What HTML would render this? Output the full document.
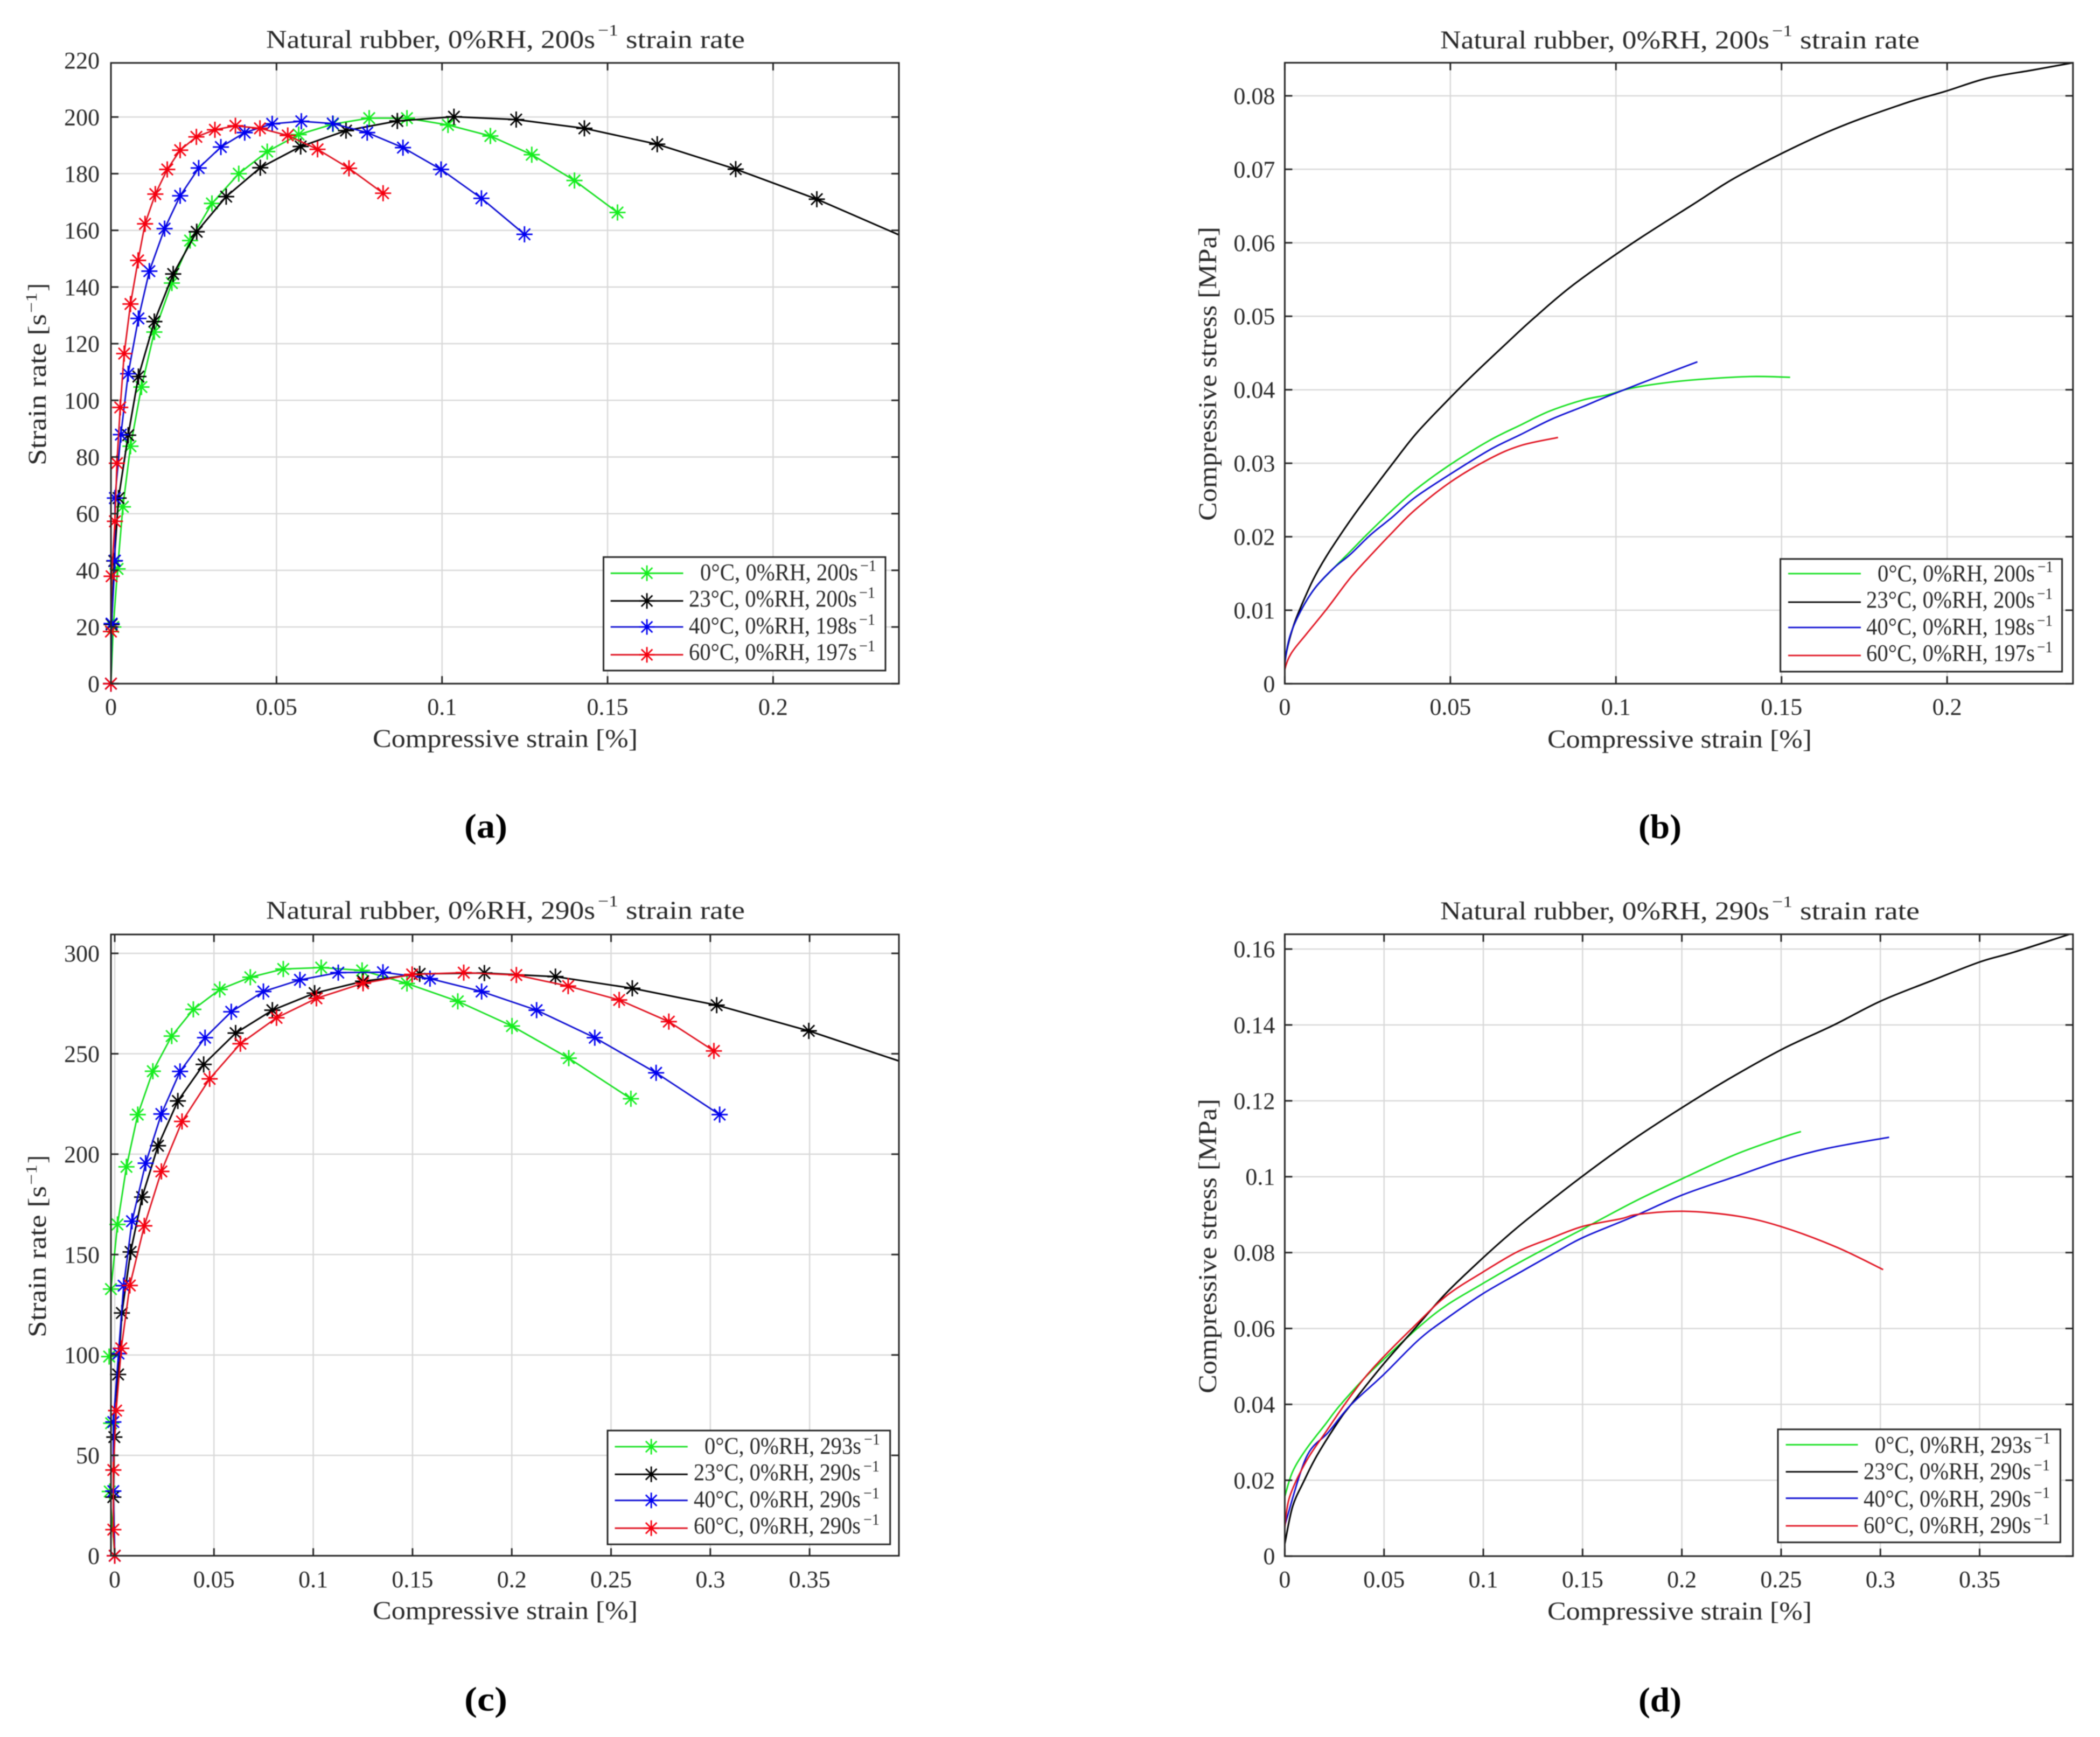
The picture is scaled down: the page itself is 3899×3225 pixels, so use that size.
<!DOCTYPE html>
<html lang="en">
<head>
<meta charset="utf-8">
<title>Natural rubber strain rate and compressive stress</title>
<style>
html,body{margin:0;padding:0;background:#fff;width:3899px;height:3225px;overflow:hidden}
svg{display:block;filter:blur(0.7px)}
text{font-family:"Liberation Serif",serif;fill:#2a2a2a}
.t{font-size:48px}
.k{font-size:44px}
.l{font-size:44px}
.s{font-size:30px}
.c{font-size:64px;font-weight:bold;fill:#000}
</style>
</head>
<body>
<svg id="figure" width="3899" height="3225" viewBox="0 0 3899 3225" xmlns="http://www.w3.org/2000/svg">
<rect width="3899" height="3225" fill="#fff"/>
<defs>
<clipPath id="clip-a"><rect x="206" y="116.8" width="1463" height="1152.5"/></clipPath>
<clipPath id="clip-b"><rect x="2385.4" y="116.5" width="1463.4" height="1153"/></clipPath>
<clipPath id="clip-c"><rect x="206" y="1735" width="1463" height="1153.5"/></clipPath>
<clipPath id="clip-d"><rect x="2385.4" y="1734.6" width="1463.4" height="1154.6"/></clipPath>
</defs>

<g id="panel-a">
  <g class="plot"></g>
  <g>
    <text class="t" x="494" y="89" textLength="611" lengthAdjust="spacingAndGlyphs">Natural rubber, 0%RH, 200s</text>
    <text class="s" x="1110" y="66" textLength="38" lengthAdjust="spacingAndGlyphs">−1</text>
    <text class="t" x="1162" y="89" textLength="221" lengthAdjust="spacingAndGlyphs">strain rate</text>
  </g>
  <text class="t" x="692" y="1387" textLength="492" lengthAdjust="spacingAndGlyphs">Compressive strain [%]</text>
  <g>
    <text class="t" transform="translate(85,864) rotate(-90)" textLength="281" lengthAdjust="spacingAndGlyphs">Strain rate [s</text>
    <text class="s" transform="translate(68,581) rotate(-90)" textLength="38" lengthAdjust="spacingAndGlyphs">−1</text>
    <text class="t" transform="translate(85,541) rotate(-90)" textLength="15" lengthAdjust="spacingAndGlyphs">]</text>
  </g>
  <text class="c" x="862" y="1555" textLength="80" lengthAdjust="spacingAndGlyphs">(a)</text>
  <g class="legend">
    <rect x="1120.5" y="1034.3" width="523.5" height="210.7" fill="#fff" stroke="#262626" stroke-width="3"/>
    <text class="l" x="1300" y="1077" textLength="293" lengthAdjust="spacingAndGlyphs">0°C, 0%RH, 200s</text><text class="s" x="1597" y="1060" textLength="30" lengthAdjust="spacingAndGlyphs">−1</text>
    <text class="l" x="1279" y="1126" textLength="312" lengthAdjust="spacingAndGlyphs">23°C, 0%RH, 200s</text><text class="s" x="1595" y="1110" textLength="30" lengthAdjust="spacingAndGlyphs">−1</text>
    <text class="l" x="1279" y="1176" textLength="312" lengthAdjust="spacingAndGlyphs">40°C, 0%RH, 198s</text><text class="s" x="1595" y="1160" textLength="30" lengthAdjust="spacingAndGlyphs">−1</text>
    <text class="l" x="1279" y="1225" textLength="312" lengthAdjust="spacingAndGlyphs">60°C, 0%RH, 197s</text><text class="s" x="1595" y="1209" textLength="30" lengthAdjust="spacingAndGlyphs">−1</text>
  </g>
</g>

<g id="panel-b">
  <g class="plot"></g>
  <g>
    <text class="t" x="2674" y="90" textLength="611" lengthAdjust="spacingAndGlyphs">Natural rubber, 0%RH, 200s</text>
    <text class="s" x="3290" y="67" textLength="38" lengthAdjust="spacingAndGlyphs">−1</text>
    <text class="t" x="3342" y="90" textLength="222" lengthAdjust="spacingAndGlyphs">strain rate</text>
  </g>
  <text class="t" x="2873" y="1388" textLength="491" lengthAdjust="spacingAndGlyphs">Compressive strain [%]</text>
  <text class="t" transform="translate(2258,967) rotate(-90)" textLength="546" lengthAdjust="spacingAndGlyphs">Compressive stress [MPa]</text>
  <text class="c" x="3042" y="1556" textLength="80" lengthAdjust="spacingAndGlyphs">(b)</text>
  <g class="legend">
    <rect x="3305.6" y="1037.8" width="523" height="209.2" fill="#fff" stroke="#262626" stroke-width="3"/>
    <text class="l" x="3486" y="1079" textLength="292" lengthAdjust="spacingAndGlyphs">0°C, 0%RH, 200s</text><text class="s" x="3783" y="1062" textLength="29" lengthAdjust="spacingAndGlyphs">−1</text>
    <text class="l" x="3465" y="1128" textLength="313" lengthAdjust="spacingAndGlyphs">23°C, 0%RH, 200s</text><text class="s" x="3782" y="1112" textLength="29" lengthAdjust="spacingAndGlyphs">−1</text>
    <text class="l" x="3465" y="1178" textLength="313" lengthAdjust="spacingAndGlyphs">40°C, 0%RH, 198s</text><text class="s" x="3782" y="1162" textLength="29" lengthAdjust="spacingAndGlyphs">−1</text>
    <text class="l" x="3465" y="1227" textLength="313" lengthAdjust="spacingAndGlyphs">60°C, 0%RH, 197s</text><text class="s" x="3782" y="1211" textLength="29" lengthAdjust="spacingAndGlyphs">−1</text>
  </g>
</g>

<g id="panel-c">
  <g class="plot"></g>
  <g>
    <text class="t" x="494" y="1706" textLength="611" lengthAdjust="spacingAndGlyphs">Natural rubber, 0%RH, 290s</text>
    <text class="s" x="1110" y="1683" textLength="38" lengthAdjust="spacingAndGlyphs">−1</text>
    <text class="t" x="1162" y="1706" textLength="221" lengthAdjust="spacingAndGlyphs">strain rate</text>
  </g>
  <text class="t" x="692" y="3006" textLength="492" lengthAdjust="spacingAndGlyphs">Compressive strain [%]</text>
  <g>
    <text class="t" transform="translate(85,2483) rotate(-90)" textLength="281" lengthAdjust="spacingAndGlyphs">Strain rate [s</text>
    <text class="s" transform="translate(68,2200) rotate(-90)" textLength="38" lengthAdjust="spacingAndGlyphs">−1</text>
    <text class="t" transform="translate(85,2160) rotate(-90)" textLength="15" lengthAdjust="spacingAndGlyphs">]</text>
  </g>
  <text class="c" x="862" y="3176" textLength="80" lengthAdjust="spacingAndGlyphs">(c)</text>
  <g class="legend">
    <rect x="1128" y="2656" width="524.7" height="211.3" fill="#fff" stroke="#262626" stroke-width="3"/>
    <text class="l" x="1308" y="2699" textLength="291" lengthAdjust="spacingAndGlyphs">0°C, 0%RH, 293s</text><text class="s" x="1604" y="2682" textLength="30" lengthAdjust="spacingAndGlyphs">−1</text>
    <text class="l" x="1288" y="2748" textLength="310" lengthAdjust="spacingAndGlyphs">23°C, 0%RH, 290s</text><text class="s" x="1603" y="2732" textLength="30" lengthAdjust="spacingAndGlyphs">−1</text>
    <text class="l" x="1288" y="2798" textLength="310" lengthAdjust="spacingAndGlyphs">40°C, 0%RH, 290s</text><text class="s" x="1603" y="2782" textLength="30" lengthAdjust="spacingAndGlyphs">−1</text>
    <text class="l" x="1288" y="2847" textLength="310" lengthAdjust="spacingAndGlyphs">60°C, 0%RH, 290s</text><text class="s" x="1603" y="2831" textLength="30" lengthAdjust="spacingAndGlyphs">−1</text>
  </g>
</g>

<g id="panel-d">
  <g class="plot"></g>
  <g>
    <text class="t" x="2674" y="1707" textLength="611" lengthAdjust="spacingAndGlyphs">Natural rubber, 0%RH, 290s</text>
    <text class="s" x="3290" y="1684" textLength="38" lengthAdjust="spacingAndGlyphs">−1</text>
    <text class="t" x="3342" y="1707" textLength="222" lengthAdjust="spacingAndGlyphs">strain rate</text>
  </g>
  <text class="t" x="2873" y="3007" textLength="491" lengthAdjust="spacingAndGlyphs">Compressive strain [%]</text>
  <text class="t" transform="translate(2258,2587) rotate(-90)" textLength="547" lengthAdjust="spacingAndGlyphs">Compressive stress [MPa]</text>
  <text class="c" x="3042" y="3177" textLength="80" lengthAdjust="spacingAndGlyphs">(d)</text>
  <g class="legend">
    <rect x="3301" y="2653.8" width="524.4" height="209.8" fill="#fff" stroke="#262626" stroke-width="3"/>
    <text class="l" x="3481" y="2697" textLength="291" lengthAdjust="spacingAndGlyphs">0°C, 0%RH, 293s</text><text class="s" x="3777" y="2680" textLength="30" lengthAdjust="spacingAndGlyphs">−1</text>
    <text class="l" x="3460" y="2746" textLength="311" lengthAdjust="spacingAndGlyphs">23°C, 0%RH, 290s</text><text class="s" x="3776" y="2730" textLength="30" lengthAdjust="spacingAndGlyphs">−1</text>
    <text class="l" x="3460" y="2797" textLength="311" lengthAdjust="spacingAndGlyphs">40°C, 0%RH, 290s</text><text class="s" x="3776" y="2781" textLength="30" lengthAdjust="spacingAndGlyphs">−1</text>
    <text class="l" x="3460" y="2846" textLength="311" lengthAdjust="spacingAndGlyphs">60°C, 0%RH, 290s</text><text class="s" x="3776" y="2830" textLength="30" lengthAdjust="spacingAndGlyphs">−1</text>
  </g>
</g>
</svg>

<script>
// Panel (a): strain rate vs. strain, 200 1/s
const aGreenStrain=[0,.0007,.002,.0036,.0059,.0092,.0131,.0184,.0239,.0305,.0386,.0472,.0567,.0671,.078,.0894,.1018,.1146,.1271,.14,.153];
const aGreenRate=[0,20,40.5,62.4,83.8,104.7,124.1,141.4,156.4,169.5,180,187.8,193.8,197.5,199.6,199.6,197.2,193.3,186.7,177.6,166.3];
const aBlackStrain=[0,.0002,.001,.0023,.0052,.0083,.0131,.0188,.0259,.0348,.0451,.0573,.071,.0865,.1036,.1224,.143,.165,.1887,.2132,.24];
const aBlackRate=[0,20.9,43.3,65.5,87.7,108.4,127.8,144.6,159.5,171.9,182.1,189.6,195.2,198.6,200.1,199.1,196,190.4,181.6,171,157.4];
const aBlueStrain=[0,.0002,.0012,.0012,.003,.0052,.0083,.0116,.0162,.0209,.0265,.0332,.0404,.0487,.0575,.067,.0774,.0882,.0997,.1119,.1249];
const aBlueRate=[0,21.2,43.4,65.5,87.9,109.4,128.9,145.6,160.6,172.2,182,189.4,194.5,197.6,198.5,197.7,194.5,189.2,181.5,171.3,158.6];
const aRedStrain=[0,0,.0002,.0012,.0018,.0028,.004,.0059,.0082,.0103,.0134,.017,.0209,.0258,.0314,.0376,.045,.0534,.0624,.0719,.0822];
const aRedRate=[0,18.4,37.9,57.3,77.8,97.5,116.5,134,149.4,162.3,172.8,181.5,188.3,193,195.5,196.9,196,193.5,188.6,181.9,173.1];

// Panel (b): stress vs. strain, 200 1/s
const bGreenStrain=[0,0,.0016,.0047,.0091,.0147,.0198,.0248,.0317,.0392,.0499,.0618,.0712,.08,.09,.0974,.1045,.1141,.125,.1404,.1526];
const bGreenStress=[.0003,.0027,.0065,.0098,.013,.0157,.018,.0203,.0233,.0263,.0298,.0331,.0352,.0371,.0386,.0393,.0402,.0409,.0414,.0418,.0417];
const bBlackStrain=[0,0,.0009,.0028,.005,.0085,.0125,.0173,.021,.0254,.0323,.0398,.0499,.0568,.0669,.0751,.0869,.1045,.1232,.1386,.164,.1867,.1994,.2121,.2258,.238];
const bBlackStress=[.0003,.0027,.0051,.0081,.0106,.0141,.0173,.0206,.023,.0257,.0298,.0341,.0389,.042,.0463,.0497,.0542,.0598,.0652,.0695,.0751,.0789,.0806,.0824,.0835,.0845];
const bBlueStrain=[0,0,.0016,.0047,.0091,.0147,.0198,.026,.0323,.0392,.0499,.0618,.0712,.0806,.09,.0974,.1105,.1246];
const bBlueStress=[.0003,.0027,.0065,.0098,.013,.0157,.0176,.0203,.0226,.0253,.0285,.0318,.0339,.036,.0377,.0391,.0414,.0438];
const bRedStrain=[0,0,.0019,.0066,.0129,.0198,.026,.0323,.0392,.0499,.0618,.0712,.0825];
const bRedStress=[.0003,.0019,.0041,.0068,.0103,.0144,.0175,.0205,.0236,.0274,.0306,.0324,.0335];

// Panel (c): strain rate vs. strain, 290 1/s
const cGreenStrain=[0,-.0025,-.0018,-.0028,-.0019,.0014,.0059,.0116,.0192,.0287,.0396,.0529,.0683,.0849,.104,.1246,.1472,.1728,.2001,.2287,.26];
const cGreenRate=[0,32,66,99.2,132.8,165,193.7,219.7,241.3,258.8,272.1,282,288.1,292.2,292.9,291.5,285,276.1,263.8,247.8,227.6];
const cBlackStrain=[0,-.0007,-.0002,.0017,.0036,.008,.0138,.0218,.0318,.0448,.0609,.0794,.1007,.1251,.1536,.1862,.222,.2607,.3032,.3496,.3965];
const cBlackRate=[0,29.2,59.1,90.3,120.9,151.3,178.6,204.2,226.5,244.7,260.3,271.7,280.2,286.1,289.8,290.2,288.4,282.6,274.2,261.4,245.9];
const cBlueStrain=[0,-.0007,-.0007,.0019,.0045,.0087,.0156,.0235,.0329,.0455,.0587,.0749,.0933,.1126,.1351,.1588,.1848,.2125,.2418,.2727,.3047];
const cBlueRate=[0,32.2,66.6,100.7,134.5,166.6,195.5,220,241.2,258,270.9,281,286.8,290.4,290.6,287.4,281,271.7,258,240.5,219.7];
const cRedStrain=[0,-.0007,-.0007,.0007,.0033,.0076,.0149,.0235,.0339,.0478,.0633,.0815,.1016,.1251,.1498,.1758,.2023,.2284,.2541,.2791,.3018];
const cRedRate=[0,13,42.7,72.3,103.3,134.6,164.3,191.4,216.3,237.5,255,267.9,277.6,285.1,289.5,290.4,289.2,283.7,276.8,266,251.4];

// Panel (d): stress vs. strain, 290 1/s
const dGreenStrain=[0,.0039,.0108,.0205,.0274,.0399,.0497,.0676,.0814,.0996,.1175,.1368,.1501,.16,.1782,.2003,.2267,.2509,.26];
const dGreenStress=[.0157,.0222,.0282,.0348,.0395,.0468,.0518,.0604,.0661,.0718,.0772,.0826,.0862,.089,.094,.0995,.1058,.1104,.1119];
const dBlackStrain=[0,.0039,.0094,.0163,.0274,.033,.0497,.0662,.0814,.0996,.1126,.1253,.1501,.1752,.204,.2267,.2509,.2766,.3002,.3265,.3501,.3674,.397];
const dBlackStress=[.0032,.013,.0195,.0266,.0358,.0397,.0506,.0604,.0694,.0785,.0846,.0901,.1002,.1097,.1195,.1267,.1337,.14,.1463,.1518,.1566,.1592,.1642];
const dBlueStrain=[0,.0108,.0219,.033,.0497,.0676,.0814,.0996,.1175,.1368,.1507,.1752,.2003,.2267,.2503,.2736,.3044];
const dBlueStress=[.0081,.026,.0326,.0397,.0478,.0571,.0626,.0691,.0745,.0802,.0841,.0894,.0952,.1,.1043,.1075,.1104];
const dRedStrain=[0,.0025,.0108,.0205,.0302,.0399,.0497,.0648,.0814,.0996,.1175,.1341,.1501,.1692,.1782,.2009,.2282,.2509,.2781,.3014];
const dRedStress=[.0075,.0157,.025,.0326,.04,.0468,.0525,.0604,.0686,.0748,.0803,.0838,.0869,.0889,.0901,.0909,.0896,.0867,.0814,.0755];

// Tick values and printed labels
const aXTicks=[0,.05,.1,.15,.2];
const aXLabels=['0','0.05','0.1','0.15','0.2'];
const aYTicks=[0,20,40,60,80,100,120,140,160,180,200,220];
const aYLabels=['0','20','40','60','80','100','120','140','160','180','200','220'];
const bYTicks=[0,.01,.02,.03,.04,.05,.06,.07,.08];
const bYLabels=['0','0.01','0.02','0.03','0.04','0.05','0.06','0.07','0.08'];
const cXTicks=[0,.05,.1,.15,.2,.25,.3,.35];
const cXLabels=['0','0.05','0.1','0.15','0.2','0.25','0.3','0.35'];
const cYTicks=[0,50,100,150,200,250,300];
const cYLabels=['0','50','100','150','200','250','300'];
const dYTicks=[0,.02,.04,.06,.08,.1,.12,.14,.16];
const dYLabels=['0','0.02','0.04','0.06','0.08','0.1','0.12','0.14','0.16'];

const seriesNames=['0c','23c','40c','60c'];
const lineColors=['#14e01e','#000000','#0a0ad2','#e0101e'];
const markColors=['#14ee1e','#000000','#0000f0','#f5000f'];

const NS='http://www.w3.org/2000/svg';

function make(parent,tag,attrs){
  const el=document.createElementNS(NS,tag);
  for(const k in attrs){el.setAttribute(k,attrs[k]);}
  parent.appendChild(el);
  return el;
}
function xAxis(p,v){return p.left+(v-p.xMin)*(p.right-p.left)/(p.xMax-p.xMin);}
function yAxis(p,v){return p.bottom-(v-p.yMin)*(p.bottom-p.top)/(p.yMax-p.yMin);}
function starPath(cx,cy,r){
  const d=r*0.707;
  return 'M'+(cx-r)+' '+cy+'H'+(cx+r)+'M'+cx+' '+(cy-r)+'V'+(cy+r)+
    'M'+(cx-d)+' '+(cy-d)+'L'+(cx+d)+' '+(cy+d)+'M'+(cx-d)+' '+(cy+d)+'L'+(cx+d)+' '+(cy-d);
}
function straightPath(q){
  return 'M'+q.map(a=>a[0].toFixed(1)+' '+a[1].toFixed(1)).join('L');
}
// Catmull-Rom through the read points, for the marker-free stress curves
function smoothPath(q){
  let d='M'+q[0][0].toFixed(1)+' '+q[0][1].toFixed(1);
  for(let i=0;i<q.length-1;i++){
    const a=q[Math.max(i-1,0)],b=q[i],c=q[i+1],e=q[Math.min(i+2,q.length-1)];
    const c1x=b[0]+(c[0]-a[0])/6,c1y=b[1]+(c[1]-a[1])/6;
    const c2x=c[0]-(e[0]-b[0])/6,c2y=c[1]-(e[1]-b[1])/6;
    d+='C'+c1x.toFixed(1)+' '+c1y.toFixed(1)+' '+c2x.toFixed(1)+' '+c2y.toFixed(1)+' '+c[0].toFixed(1)+' '+c[1].toFixed(1);
  }
  return d;
}

function drawPanel(p){
  const plot=document.querySelector('#'+p.id+' .plot');
  const inY=v=>v<=p.yMax&&v>=p.yMin;

  const grid=make(plot,'g',{stroke:'#d8d8d8','stroke-width':2.4,fill:'none'});
  
  
  p.xTicks.forEach(v=>{
    const x=xAxis(p,v);
    const gl=make(grid,'line',{x1:x,x2:x,y1:p.top,y2:p.bottom});
    
    
  });
  p.yTicks.filter(inY).forEach(v=>{
    const y=yAxis(p,v);
    const gl=make(grid,'line',{x1:p.left,x2:p.right,y1:y,y2:y});
    
    
  });

  p.series.forEach((s,i)=>{
    const g=make(plot,'g',{});
    
    
    const q=s.x.map((v,j)=>[xAxis(p,v),yAxis(p,s.y[j])]);
    const line=make(g,'path',{d:p.markers?straightPath(q):smoothPath(q),fill:'none',stroke:lineColors[i],'stroke-width':i===1?3:2.8,'stroke-linejoin':'round','clip-path':'url(#clip-'+p.id.slice(-1)+')'});
    
    
    if(p.markers){
      s.x.forEach((v,j)=>{
        if(v>p.xMax){return;}
        const m=make(g,'path',{d:starPath(xAxis(p,v),yAxis(p,s.y[j]),15),stroke:markColors[i],'stroke-width':2.8,fill:'none'});
        
        
      });
    }
  });

  const frame=make(plot,'g',{stroke:'#262626','stroke-width':3,fill:'none'});
  
  
  make(frame,'rect',{x:p.left,y:p.top,width:p.right-p.left,height:p.bottom-p.top});
  const tickLen=14;
  p.xTicks.forEach(v=>{
    const x=xAxis(p,v);
    make(frame,'line',{x1:x,x2:x,y1:p.bottom,y2:p.bottom-tickLen});
    make(frame,'line',{x1:x,x2:x,y1:p.top,y2:p.top+tickLen});
  });
  p.yTicks.filter(inY).forEach(v=>{
    const y=yAxis(p,v);
    make(frame,'line',{x1:p.left,x2:p.left+tickLen,y1:y,y2:y});
    make(frame,'line',{x1:p.right,x2:p.right-tickLen,y1:y,y2:y});
  });

  p.xTicks.forEach((v,i)=>{
    const t=make(plot,'text',{class:'k',x:xAxis(p,v),y:p.xLabelY,'text-anchor':'middle'});
    
    
    t.textContent=p.xLabels[i];
  });
  p.yTicks.forEach((v,i)=>{
    const t=make(plot,'text',{class:'k',x:p.left-p.yLabelGap,y:yAxis(p,v)+15,'text-anchor':'end'});
    
    
    t.textContent=p.yLabels[i];
  });

  // legend samples sit above the box, which is placed by the markup
  const legend=document.querySelector('#'+p.id+' .legend');
  p.legendRows.forEach((ry,i)=>{
    const row=make(legend,'g',{});
    
    
    make(row,'line',{x1:p.legendLine[0],x2:p.legendLine[1],y1:ry,y2:ry,stroke:lineColors[i],'stroke-width':2.8});
    if(p.markers){
      make(row,'path',{d:starPath((p.legendLine[0]+p.legendLine[1])/2,ry,14.5),stroke:markColors[i],'stroke-width':2.8,fill:'none'});
    }
  });
}

const panels=[
 {id:'panel-a',left:206,right:1669,top:116.8,bottom:1269.3,xMin:0,xMax:.238,yMin:0,yMax:219.1,markers:true,
  xTicks:aXTicks,xLabels:aXLabels,yTicks:aYTicks,yLabels:aYLabels,xLabelY:1327,yLabelGap:21,
  legendRows:[1064.3,1115.7,1164,1215.7],legendLine:[1133.7,1268.5],
  series:[{x:aGreenStrain,y:aGreenRate},{x:aBlackStrain,y:aBlackRate},{x:aBlueStrain,y:aBlueRate},{x:aRedStrain,y:aRedRate}]},
 {id:'panel-b',left:2385.4,right:3848.8,top:116.5,bottom:1269.4,xMin:0,xMax:.238,yMin:0,yMax:.0845,markers:false,
  xTicks:aXTicks,xLabels:aXLabels,yTicks:bYTicks,yLabels:bYLabels,xLabelY:1327,yLabelGap:18,
  legendRows:[1065,1118,1165,1217],legendLine:[3320,3455],
  series:[{x:bGreenStrain,y:bGreenStress},{x:bBlackStrain,y:bBlackStress},{x:bBlueStrain,y:bBlueStress},{x:bRedStrain,y:bRedStress}]},
 {id:'panel-c',left:206,right:1669,top:1735,bottom:2888.5,xMin:-.0019,xMax:.395,yMin:0,yMax:309.4,markers:true,
  xTicks:cXTicks,xLabels:cXLabels,yTicks:cYTicks,yLabels:cYLabels,xLabelY:2947,yLabelGap:21,
  legendRows:[2686,2737.3,2785.7,2837.3],legendLine:[1141.5,1276.8],
  series:[{x:cGreenStrain,y:cGreenRate},{x:cBlackStrain,y:cBlackRate},{x:cBlueStrain,y:cBlueRate},{x:cRedStrain,y:cRedRate}]},
 {id:'panel-d',left:2385.4,right:3848.8,top:1734.6,bottom:2889.2,xMin:0,xMax:.397,yMin:0,yMax:.1639,markers:false,
  xTicks:cXTicks,xLabels:cXLabels,yTicks:dYTicks,yLabels:dYLabels,xLabelY:2947,yLabelGap:18,
  legendRows:[2682.4,2732.6,2781.7,2833],legendLine:[3315.6,3449.5],
  series:[{x:dGreenStrain,y:dGreenStress},{x:dBlackStrain,y:dBlackStress},{x:dBlueStrain,y:dBlueStress},{x:dRedStrain,y:dRedStress}]}
];
panels.forEach(drawPanel);
</script>
</body>
</html>
